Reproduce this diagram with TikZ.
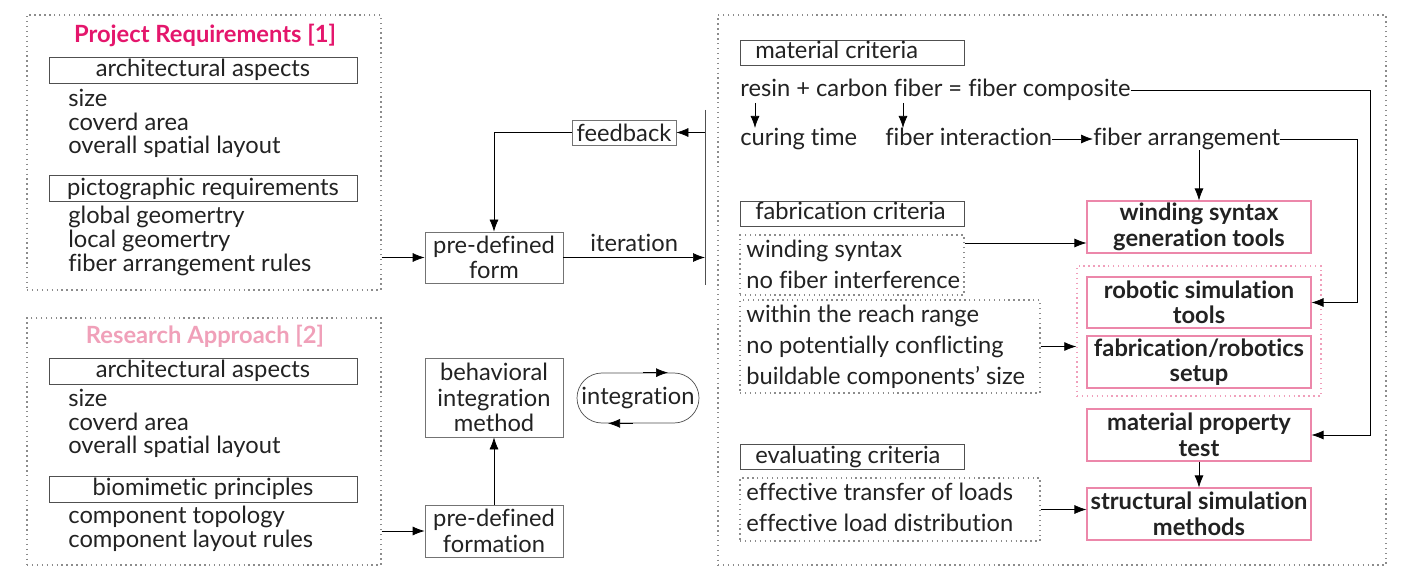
\documentclass[tikz,border=0pt]{standalone}
\usepackage{fontspec}
\setmainfont[Ligatures=NoCommon]{Lato}
\usetikzlibrary{arrows.meta,positioning}
\definecolor{reqpink}{RGB}{228,22,108}
\definecolor{apppink}{RGB}{240,160,185}
\definecolor{toolpink}{RGB}{236,135,170}
\definecolor{dotgray}{RGB}{140,140,140}
\definecolor{linegray}{RGB}{80,80,80}
\definecolor{txt}{RGB}{34,34,34}
\begin{document}
\begin{tikzpicture}[x=0.2mm,y=-0.2mm,
    font=\fontsize{13.5}{14.5}\selectfont, text=txt,
    group/.style={draw=dotgray, dotted, thick, inner sep=0pt},
    head/.style={draw=linegray, inner sep=0pt, minimum width=61.6mm, minimum height=5.2mm},
    crit/.style={draw=linegray, inner sep=0pt, minimum width=44.8mm, minimum height=5mm},
    item/.style={anchor=west, inner sep=0pt, text height=1.9ex, text depth=0.5ex},
    step box/.style={draw=linegray!80, inner sep=0pt, minimum width=27.6mm, align=center},
    tool/.style={draw=toolpink, semithick, inner sep=0pt, minimum width=44.8mm, minimum height=10.4mm,
        align=center, font=\fontsize{13.5}{14.5}\selectfont\bfseries},
    conn/.style={draw=linegray, -{Latex[length=2.4mm,width=1.8mm]}, black}]
\useasboundingbox (0,0) rectangle (1404,568);
% Project Requirements
\node[group, minimum width=70.8mm, minimum height=55mm] (req) at (204,152.5) {};
\node[text=reqpink, font=\fontsize{13.5}{14.5}\selectfont\bfseries] at (205,35) {Project Requirements [1]};
\node[head] at (203,70) {architectural aspects};
\node[item] at (68,100) {size};
\node[item] at (68,124) {coverd area};
\node[item] at (68,147) {overall spatial layout};
\node[head] at (203,188.5) {pictographic requirements};
\node[item] at (68,217) {global geomertry};
\node[item] at (68,241) {local geomertry};
\node[item] at (68,265) {fiber arrangement rules};
% Research Approach
\node[group, minimum width=70.8mm, minimum height=49.4mm] (app) at (204,441.5) {};
\node[text=apppink, font=\fontsize{13.5}{14.5}\selectfont\bfseries] at (205,336) {Research Approach [2]};
\node[head] at (203,371) {architectural aspects};
\node[item] at (68,400) {size};
\node[item] at (68,424) {coverd area};
\node[item] at (68,447) {overall spatial layout};
\node[head] at (203,489) {biomimetic principles};
\node[item] at (68,517) {component topology};
\node[item] at (68,541) {component layout rules};
% Iteration loop
\node[step box, minimum height=10.2mm] (form) at (494,257.5) {pre-defined\\form};
\node[draw=linegray!80, inner sep=0pt, minimum width=20.8mm, minimum height=5mm] (fb) at (624,132.5) {feedback};
\coordinate (vt) at (705,110);
\coordinate (vb) at (705,285);
\draw[linegray] (vt) -- (vb);
\draw[conn] (form -| req.east) -- (form.west);
\draw[conn] (form.east) -- (form -| vt) node[midway, above, text=txt] {iteration};
\draw[conn] (fb -| vt) -- (fb.east);
\draw[conn] (fb.west) -| (form.north);
% Integration
\node[step box, minimum height=15.8mm] (beh) at (494,397.5) {behavioral\\integration\\method};
\node[step box, minimum height=10.4mm] (frm) at (494,531) {pre-defined\\formation};
\node[draw=linegray, rounded corners=5mm, inner sep=0pt, minimum width=24.4mm, minimum height=10mm] (integ) at (638,398) {integration};
\draw[conn] (frm -| app.east) -- (frm.west);
\draw[conn] (frm.north) -- (beh.south);
\draw[conn] ([xshift=1mm]integ.north) -- ([xshift=6mm]integ.north);
\draw[conn] ([xshift=-1mm]integ.south) -- ([xshift=-6mm]integ.south);
% Criteria and tools
\node[group, minimum width=133.6mm, minimum height=110mm] (crt) at (1052,290) {};
\node[crit] (matc) at (852,52.5) {};
\node[item] at (755,52.5) {material criteria};
\node[item] (resin) at (740,90) {resin + carbon fiber = fiber composite};
\node[item] (cure) at (740,139) {curing time};
\node[item] (fint) at (885,139) {fiber interaction};
\node[item] (farr) at (1093,139) {fiber arrangement};
\coordinate (r1) at (755,103);
\coordinate (r2) at (903,103);
\coordinate (rr) at (1370,90);
\coordinate (fr) at (1357,139);
\draw[conn] (r1) -- (r1 |- cure.north);
\draw[conn] (r2) -- (r2 |- fint.north);
\draw[conn] (fint.east) -- (farr.west);
\node[crit] (fabc) at (852,213.5) {};
\node[item] at (755,213.5) {fabrication criteria};
\node[group, minimum width=44.8mm, minimum height=12mm] (wl) at (852,265) {};
\node[item] at (746,251) {winding syntax};
\node[item] at (746,282) {no fiber interference};
\node[group, minimum width=60mm, minimum height=18.6mm] (rl) at (890,346.5) {};
\node[item] at (746,316) {within the reach range};
\node[item] at (746,347) {no potentially conflicting};
\node[item] at (746,378) {buildable components' size};
\node[crit] (evac) at (852,457) {};
\node[item] at (755,457) {evaluating criteria};
\node[group, minimum width=60mm, minimum height=12.6mm] (el) at (890,509.5) {};
\node[item] at (746,494) {effective transfer of loads};
\node[item] at (746,525) {effective load distribution};
% Tools
\node[tool] (wind) at (1199,227) {winding syntax\\generation tools};
\node[draw=toolpink!80, dotted, thick, inner sep=0pt, minimum width=48.8mm, minimum height=26mm] (tgrp) at (1199,331) {};
\node[tool, minimum height=10.2mm] (robo) at (1199,302.5) {robotic simulation\\tools};
\node[tool] (setup) at (1199,362) {fabrication/robotics\\setup};
\node[tool] (mp) at (1199,435) {material property\\test};
\node[tool] (struct) at (1199,514) {structural simulation\\methods};
\draw[conn] (wind.north |- farr.south) -- (wind.north);
\draw[conn] ([yshift=4.4mm]wl.east) -- ([yshift=4.4mm]wl.east -| wind.west);
\draw[conn] (rl.east) -- (rl.east -| tgrp.west);
\draw[conn] (el.east) -- (el.east -| struct.west);
\draw[conn] (farr.east) -- (fr) |- (robo.east);
\draw[conn] (resin.east) -- (rr) |- (mp.east);
\draw[conn] (mp.south) -- (struct.north);
\end{tikzpicture}
\end{document}
